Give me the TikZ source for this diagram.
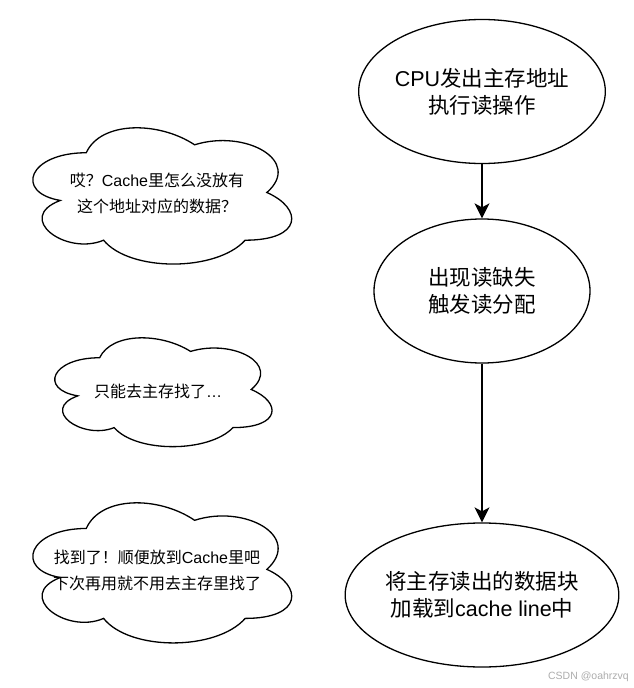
\documentclass[tikz,border=0pt]{standalone}
\usepackage{fontspec}
\setmainfont{Noto Sans CJK SC}
\newfontfamily\lat{Liberation Sans}
\usetikzlibrary{shapes.geometric,arrows.meta}
\tikzset{
  bigell/.style={ellipse, draw, line width=1.3pt, minimum width=216pt, minimum height=144pt,
    inner sep=0pt, align=center, font=\fontsize{21.5}{27}\selectfont},
  cloudtext/.style={align=center, inner sep=0pt, font=\fontsize{16}{26}\selectfont},
  flow/.style={line width=1.3pt, -{Stealth[length=15pt,width=15pt,inset=4pt]}},
  cloudshape/.pic={
    \draw[line width=1.3pt] (0.25,0.25) .. controls (0.05,0.25) and (0,0.5) .. (0.16,0.55)
      .. controls (0,0.66) and (0.18,0.9) .. (0.31,0.8)
      .. controls (0.4,1) and (0.7,1) .. (0.8,0.8)
      .. controls (1,0.8) and (1,0.6) .. (0.875,0.5)
      .. controls (1,0.3) and (0.8,0.1) .. (0.625,0.2)
      .. controls (0.5,0.05) and (0.3,0.05) .. (0.25,0.25) -- cycle;
  }
}
\begin{document}
\begin{tikzpicture}[x=1pt,y=-1pt]
\fill[white] (0,0) rectangle (634,688);
\useasboundingbox (0,0) rectangle (634,688);

% flow ellipses
\node[bigell] (e1) at (482,91.5) {{\lat CPU}发出主存地址\\执行读操作};
\node[bigell] (e2) at (482,291) {出现读缺失\\触发读分配};
\node[bigell] (e3) at (482,595) {将主存读出的数据块\\加载到{\lat cache line}中};

\draw[flow] (e1) -- (e2);
\draw[flow] (e2) -- (e3);

% clouds
\pic[shift={(14,113)}, xscale=289, yscale=159] {cloudshape};
\node[cloudtext] (c1) at (157,193) {哎？{\lat Cache}里怎么没放有\\这个地址对应的数据？};

\pic[shift={(39,326)}, xscale=242.5, yscale=127] {cloudshape};
\node[cloudtext] (c2) at (158,391) {只能去主存找了{\lat …}};

\pic[shift={(14,487.6)}, xscale=289, yscale=163.5] {cloudshape};
\node[cloudtext] (c3) at (157,570) {找到了！顺便放到{\lat Cache}里吧\\下次再用就不用去主存里找了};

% watermark
\node[text=black!32, font=\lat\fontsize{10.5}{12}\selectfont, anchor=east, inner sep=0pt] (wm) at (629,677) {CSDN @oahrzvq};
\end{tikzpicture}
\end{document}
